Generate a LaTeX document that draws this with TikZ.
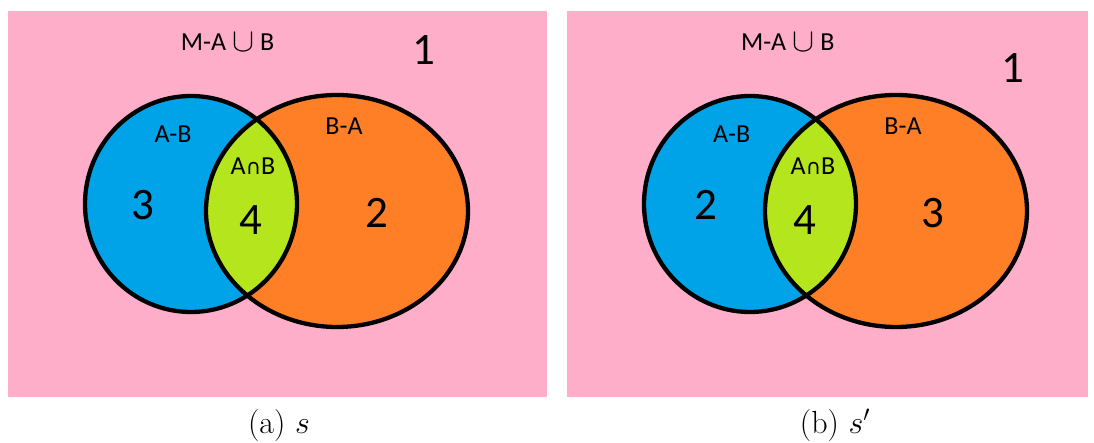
\RequirePackage{fix-cm}
\documentclass[tikz,border=0pt]{standalone}
\usepackage{fontspec}
\newfontfamily\paintfont{Carlito}
\newfontfamily\symfont{DejaVu Sans}
\definecolor{pinkbg}{RGB}{255,174,201}
\definecolor{setA}{RGB}{0,162,232}
\definecolor{setB}{RGB}{255,127,39}
\definecolor{setAB}{RGB}{181,230,29}
\newcommand{\bigcupsym}{{\fontsize{33}{33}\selectfont\raisebox{-1pt}{$\cup$}}}
\begin{document}
\begin{tikzpicture}[x=1pt,y=-1pt,
  lbl/.style={font=\paintfont\fontsize{26}{26}\selectfont, anchor=base, inner sep=0pt},
  num/.style={font=\paintfont\fontsize{45}{45}\selectfont, anchor=base, inner sep=0pt},
  captext/.style={font=\fontsize{32}{32}\selectfont, anchor=base, inner sep=0pt},
  outline/.style={draw=black, line width=4.3pt},
  circA/.style={x radius=106pt, y radius=108pt},
  circB/.style={x radius=131pt, y radius=116pt}]
\useasboundingbox (0,0) rectangle (1094,443);
% ---------- panel (a)
\fill[pinkbg] (8,11) rectangle (547,397);
\fill[setA] (191,204) ellipse [circA];
\fill[setB] (337,211) ellipse [circB];
\begin{scope}
  \clip (191,204) ellipse [circA];
  \fill[setAB] (337,211) ellipse [circB];
\end{scope}
\draw[outline] (191,204) ellipse [circA];
\draw[outline] (337,211) ellipse [circB];
\node[lbl] (aU) at (227.5,51) {M-A\kern6pt\bigcupsym\kern6pt B};
\node[num] (a1) at (424,65) {1};
\node[lbl] (aAB) at (173,143) {A-B};
\node[lbl] (aBA) at (344,135) {B-A};
\node[lbl] (aI) at (253,175) {A{\symfont\fontsize{21}{21}\selectfont ∩}B};
\node[num] (a3) at (143,220) {3};
\node[num] (a4) at (251,235) {4};
\node[num] (a2) at (377,228) {2};
\node[captext] (capa) at (279,433) {(a) $s$};
% ---------- panel (b)
\fill[pinkbg] (567,11) rectangle (1088,397);
\fill[setA] (750,204) ellipse [circA];
\fill[setB] (896,211) ellipse [circB];
\begin{scope}
  \clip (750,204) ellipse [circA];
  \fill[setAB] (896,211) ellipse [circB];
\end{scope}
\draw[outline] (750,204) ellipse [circA];
\draw[outline] (896,211) ellipse [circB];
\node[lbl] (bU) at (787.7,51) {M-A\kern6pt\bigcupsym\kern6pt B};
\node[num] (b1) at (1012.7,83) {1};
\node[lbl] (bAB) at (731.7,143) {A-B};
\node[lbl] (bBA) at (903,135) {B-A};
\node[lbl] (bI) at (813,175) {A{\symfont\fontsize{21}{21}\selectfont ∩}B};
\node[num] (b2) at (706,220) {2};
\node[num] (b4) at (805,235) {4};
\node[num] (b3) at (933,228) {3};
\node[captext] (capb) at (835,433) {(b) $s'$};
\end{tikzpicture}
\end{document}
